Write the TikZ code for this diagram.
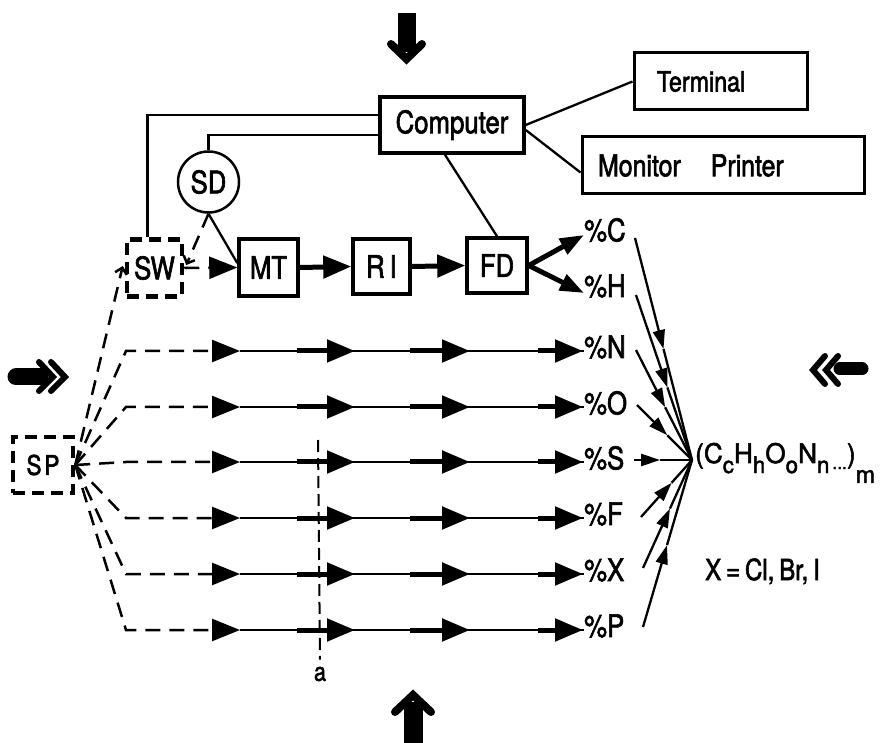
\documentclass[tikz,border=0pt]{standalone}
\usepackage{fontspec}
\setmainfont[FakeStretch=0.83,FakeBold=2]{TeX Gyre Heros}
\newfontfamily\wideff[FakeStretch=0.97,FakeBold=2]{TeX Gyre Heros}
\usetikzlibrary{arrows.meta,calc}
\newcommand\sbx[1]{\raisebox{-10pt}{\fontsize{23}{23}\selectfont #1}}
\begin{document}
\begin{tikzpicture}[x=1pt,y=-1pt,
  box/.style={draw,line width=3.5pt,inner sep=0pt,font=\fontsize{31}{33}\selectfont},
  dbox/.style={draw,line width=4.5pt,dash pattern=on 12pt off 7pt,inner sep=0pt,font=\fontsize{31}{33}\selectfont},
  lbl/.style={inner sep=0pt,font=\fontsize{31}{33}\selectfont},
  conn/.style={line width=2.3pt},
  dsh/.style={line width=2.5pt,dash pattern=on 15pt off 9pt},
  thk/.style={line width=5pt},
  bigtip/.tip={Triangle[length=28pt,width=22pt]},
  medtip/.tip={Triangle[length=24pt,width=17pt]},
  smalltip/.tip={Triangle[length=19pt,width=12pt]},
  barb/.tip={Straight Barb[length=6pt,width=12pt]},
  fat/.style={line cap=round,line join=miter}
]
\fill[white] (0,0) rectangle (887,743);
\useasboundingbox (0,0) rectangle (887,743);

% boxes
\node[box,minimum width=144pt,minimum height=56pt] (comp) at (452,125) {Computer};
\node[box,line width=3pt,minimum width=173pt,minimum height=57pt,text width=127pt,align=left,inner xsep=23pt,inner ysep=0pt,font=\fontsize{28}{30}\selectfont] (term) at (720.5,81.5) {Terminal};
\node[box,line width=3pt,minimum width=282pt,minimum height=57pt,text width=250pt,align=left,inner xsep=16pt,inner ysep=0pt,font=\fontsize{30}{32}\selectfont] (mon) at (723,165.5) {Monitor\hspace{30pt}Printer};
\node[draw,circle,line width=2.5pt,minimum size=61pt,inner sep=0pt,font=\fontsize{31}{33}\selectfont] (sd) at (208.5,182) {SD};
\node[dbox,minimum width=55pt,minimum height=57pt] (sw) at (154.5,268) {SW};
\node[box,minimum width=59pt,minimum height=57pt] (mt) at (268.5,267.5) {MT};
\node[box,minimum width=57pt,minimum height=55pt] (ri) at (381.5,266.5) {R\kern5pt I};
\node[box,minimum width=60pt,minimum height=55pt] (fd) at (497,265.5) {FD};
\node[dbox,minimum width=60pt,minimum height=56pt,font=\fontsize{27}{29}\selectfont] (sp) at (43,465) {S\kern3pt P};

% computer connections
\draw[conn] (comp.east) -- (term.west);
\draw[conn] ([yshift=-5pt]comp.east) -- ([yshift=-7pt]mon.west);
\draw[conn] ([xshift=-7pt]comp.south) -- (fd.north);
\draw[conn] ([yshift=10pt]comp.west) -| ([xshift=-7pt]sw.north);
\draw[conn] ([yshift=-10pt]comp.west) -| (sd.north);

% top row
\draw[conn] (sd.south) -- ([yshift=4.5pt]mt.west);
\draw[dsh,-barb] (sd.south) -- ([xshift=2pt,yshift=3pt]sw.east);
\draw[dsh,-barb] (sp.east) -- ([xshift=-2pt,yshift=2pt]sw.west);
\draw[dsh,-bigtip] (sw.east) -- (mt.west);
\draw[thk,-bigtip] (mt.east) -- (ri.west);
\draw[thk,-bigtip] (ri.east) -- (fd.west);
\node[lbl,anchor=west] (lC) at (584,230) {\%C};
\node[lbl,anchor=west] (lH) at (584,286) {\%H};
\draw[thk,-medtip] (fd.east) -- ([yshift=-5pt]lC.west);
\draw[thk,-medtip] (fd.east) -- ([yshift=-7pt]lH.west);

% parallel rows
\foreach \n/\y in {N/351,O/407,S/462,F/518,X/574,P/630}{
  \coordinate (b\n) at (126,\y);
  \coordinate (a\n) at (240,\y);
  \coordinate (c\n) at (355,\y);
  \coordinate (d\n) at (470,\y);
  \node[lbl,anchor=west] (l\n) at (584,\y-4) {\%\n};
  \draw[dsh,-bigtip] (sp.east) -- (b\n) -- (a\n);
  \draw[conn] (a\n) -- (c\n);
  \draw[thk,-bigtip] ($(c\n)+(-58,0)$) -- (c\n);
  \draw[conn] (c\n) -- (d\n);
  \draw[thk,-bigtip] ($(d\n)+(-60,0)$) -- (d\n);
  \draw[conn] (d\n) -- ($(l\n.west)+(0,4)$);
  \draw[thk,-bigtip] ($(l\n.west)+(-46,4)$) -- ($(l\n.west)+(-1,4)$);
}

% section line a
\coordinate (atop) at (318,440);
\node[inner sep=1pt,font=\fontsize{26}{28}\selectfont] (alab) at (320,674) {a};
\draw[line width=2pt,dash pattern=on 12pt off 6pt] (atop) -- ([yshift=6pt]alab.north);

% convergence
\coordinate (cv) at (692,460);
\foreach \n/\x/\y/\f in {C/635/238/0.5,H/636/295/0.56,N/636/350/0.52,O/637/405/0.55,S/634/460/0.45,F/641/517/0.6,X/643/568/0.55,P/643/627/0.49}{
  \coordinate (s\n) at (\x,\y);
  \draw[conn,-smalltip] (s\n) -- ($(s\n)!\f!(cv)$);
  \draw[conn] ($(s\n)!\f!(cv)$) -- (cv);
}
\node[anchor=base west,inner sep=0pt,font=\wideff\fontsize{27}{29}\selectfont] (form) at (695,463)
  {(C\sbx{c}H\sbx{h}O\sbx{o}N\sbx{n}\raisebox{-6pt}{\fontsize{18}{18}\selectfont\,...})\raisebox{-20pt}{\fontsize{24}{24}\selectfont m}};
\node[anchor=base west,inner sep=0pt,font=\fontsize{29}{31}\selectfont] (xnote) at (705,580) {X\,=\,Cl,\,Br,\,I};

% big arrows
\draw[line width=18pt] (406.5,13) -- (406.5,52);
\draw[fat,line width=8pt] (391,44) -- (406.5,59) -- (422,44);
\draw[line width=19pt] (413,743) -- (413,702);
\draw[fat,line width=8pt] (395,712) -- (413,695) -- (431,712);
\draw[line width=17pt,line cap=round] (16,377) -- (40,377);
\draw[fat,line width=6pt] (39,362) -- (53,377) -- (39,391);
\draw[fat,line width=6pt] (51,362) -- (65,377) -- (51,391);
\draw[line width=13pt,line cap=round] (840,369) -- (862,369);
\draw[fat,line width=6pt] (825,356) -- (813,370) -- (825,384);
\draw[fat,line width=6pt] (838,356) -- (826,370) -- (838,384);
\end{tikzpicture}
\end{document}
